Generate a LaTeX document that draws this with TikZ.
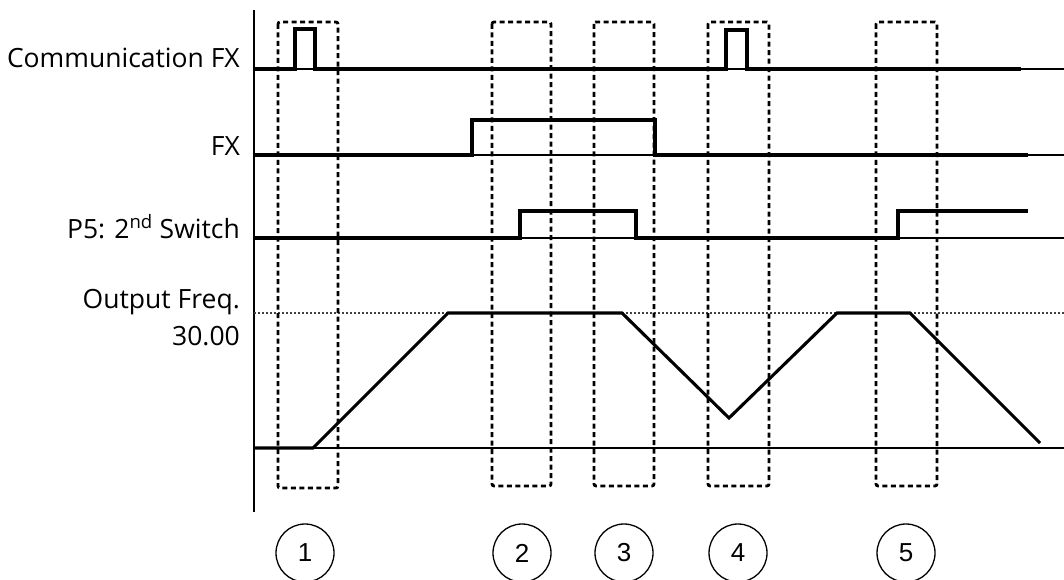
\documentclass[tikz,border=0pt]{standalone}
\usepackage{fontspec}
\setmainfont{Open Sans}
\newfontfamily\numfont{Liberation Sans}
\begin{document}
\begin{tikzpicture}[x=1pt,y=-1pt,
  sig/.style={line width=3.1pt, line join=miter},
  thinbase/.style={line width=1.4pt},
  axisline/.style={line width=1.6pt},
  dotline/.style={line width=1.2pt, black!75, dash pattern=on 1.5pt off 2.5pt},
  dashbox/.style={line width=2.8pt, dash pattern=on 5pt off 3.5pt, rounded corners=2pt},
  lbl/.style={anchor=base east, inner sep=0pt, font=\fontsize{26.5}{31}\selectfont},
  numcirc/.style={draw, circle, minimum size=58pt, line width=1.3pt, inner sep=0pt,
    font=\numfont\fontsize{26}{31}\selectfont}]
\useasboundingbox (0,0) rectangle (1064,580);

% labels
\node[lbl] (lcomm) at (240,68) {Communication FX};
\node[lbl] (lfx) at (240,156) {FX};
\node[lbl] (lp5) at (240,238) {P5: 2\textsuperscript{nd} Switch};
\node[lbl] (lout) at (240,308) {Output Freq.};
\node[lbl] (lval) at (240,345) {30.00};

% axis
\coordinate (axtop) at (254,10);
\coordinate (axbot) at (254,512);
\draw[axisline] (axtop) -- (axbot);

% thin baselines
\draw[thinbase] (254,69) -- (1064,69);
\draw[thinbase] (254,155) -- (1064,155);
\draw[thinbase] (254,238) -- (1064,238);
\draw[thinbase] (254,448) -- (1064,448);
\draw[dotline] (254,313) -- (1064,313);

% signals
\draw[sig] (254,69) -- (295,69) -- (295,29) -- (315,29) -- (315,69)
  -- (726,69) -- (726,30) -- (747,30) -- (747,69) -- (1021,69);
\draw[sig] (254,155) -- (472,155) -- (472,120) -- (655,120) -- (655,155) -- (1028,155);
\draw[sig] (254,238) -- (520,238) -- (520,211) -- (636,211) -- (636,238)
  -- (898,238) -- (898,211) -- (1028,211);
\draw[sig] (254,448) -- (313,448) -- (448,313) -- (622,313) -- (729,418)
  -- (837,313) -- (910,313) -- (1040,443);

% dashed boxes
\draw[dashbox] (278,22) rectangle (338,488);
\draw[dashbox] (492,22) rectangle (551,486);
\draw[dashbox] (594,22) rectangle (654,486);
\draw[dashbox] (708,22) rectangle (769,486);
\draw[dashbox] (876,22) rectangle (937,486);

% numbered circles
\node[numcirc] (c1) at (305,553) {1};
\node[numcirc] (c2) at (522,553) {2};
\node[numcirc] (c3) at (624,553) {3};
\node[numcirc] (c4) at (738,553) {4};
\node[numcirc] (c5) at (906,553) {5};
\end{tikzpicture}
\end{document}
